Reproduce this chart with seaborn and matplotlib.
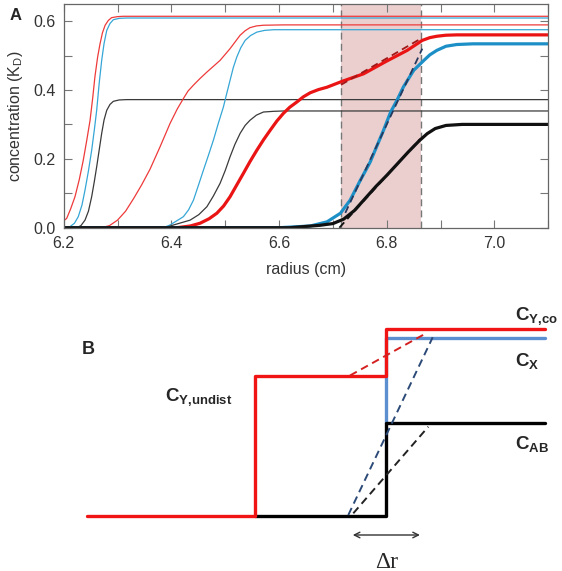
import numpy as np
import pandas as pd
import matplotlib
matplotlib.use('Agg')
import matplotlib.pyplot as plt
from matplotlib.ticker import MultipleLocator
import seaborn as sns

# =============================================================================
# PANEL A - concentration profiles
# =============================================================================
# thin curves (early boundaries)
r1_x = [6.200, 6.2056, 6.213, 6.221, 6.229, 6.2364, 6.243, 6.249, 6.254, 6.258, 6.263, 6.2675, 6.272, 6.277,
        6.283, 6.289, 6.300, 6.311, 7.100]
r1_y = [0.020, 0.027, 0.055, 0.090, 0.140, 0.196, 0.255, 0.312, 0.378, 0.438, 0.495, 0.534, 0.566, 0.588,
        0.602, 0.610, 0.613, 0.614, 0.614]
b1_x = [6.200, 6.2117, 6.220, 6.2271, 6.234, 6.2396, 6.246, 6.252, 6.257, 6.2613, 6.266, 6.2706, 6.275, 6.280,
        6.286, 6.2922, 6.303, 6.317, 7.100]
b1_y = [0.000, 0.003, 0.013, 0.032, 0.066, 0.109, 0.165, 0.225, 0.285, 0.341, 0.420, 0.486, 0.535, 0.573,
        0.593, 0.604, 0.608, 0.609, 0.609]
k1_x = [6.200, 6.224, 6.232, 6.2396, 6.246, 6.252, 6.257, 6.2613, 6.266, 6.2706, 6.275, 6.280, 6.286, 6.2922,
        6.303, 6.317, 7.100]
k1_y = [0.000, 0.000, 0.006, 0.022, 0.048, 0.090, 0.135, 0.177, 0.226, 0.274, 0.313, 0.341, 0.358, 0.367,
        0.371, 0.372, 0.372]

# thin curves (later boundaries)
r2_x = [6.200, 6.270, 6.285, 6.300, 6.315, 6.330, 6.345, 6.3604, 6.379, 6.3976, 6.411, 6.4223, 6.431, 6.441,
        6.453, 6.466, 6.4905, 6.509, 6.5277, 6.537, 6.546, 6.558, 6.571, 6.608, 7.100]
r2_y = [0.000, 0.000, 0.006, 0.022, 0.048, 0.085, 0.125, 0.170, 0.235, 0.303, 0.345, 0.375, 0.397, 0.414,
        0.433, 0.452, 0.486, 0.520, 0.559, 0.572, 0.581, 0.586, 0.588, 0.589, 0.589]
b2_x = [6.200, 6.385, 6.3976, 6.4223, 6.432, 6.441, 6.450, 6.4595, 6.469, 6.478, 6.487, 6.4967, 6.503,
        6.509, 6.515, 6.5216, 6.529, 6.537, 6.547, 6.5587, 6.573, 6.590, 6.640, 7.100]
b2_y = [0.000, 0.000, 0.008, 0.032, 0.052, 0.080, 0.122, 0.167, 0.211, 0.254, 0.302, 0.351, 0.391,
        0.428, 0.465, 0.496, 0.523, 0.544, 0.558, 0.568, 0.573, 0.575, 0.575, 0.575]
k2_x = [6.200, 6.390, 6.3976, 6.4348, 6.451, 6.466, 6.478, 6.4905, 6.500, 6.509, 6.518, 6.5277, 6.537, 6.546,
        6.558, 6.571, 6.590, 6.608, 7.100]
k2_y = [0.000, 0.000, 0.005, 0.022, 0.038, 0.061, 0.092, 0.129, 0.166, 0.206, 0.242, 0.274, 0.297, 0.312,
        0.327, 0.336, 0.338, 0.339, 0.339]

# thick curves (current profiles)
R3_x = [6.200, 6.410, 6.435, 6.4533, 6.470, 6.4844, 6.497, 6.509, 6.521, 6.5338, 6.546, 6.5587, 6.571, 6.5835,
        6.596, 6.608, 6.620, 6.633, 6.645, 6.658, 6.673, 6.689, 6.717, 6.757, 6.800, 6.838, 6.866, 6.880,
        6.893, 6.910, 6.930, 7.100]
R3_y = [0.000, 0.000, 0.005, 0.013, 0.026, 0.042, 0.063, 0.090, 0.123, 0.158, 0.192, 0.225, 0.255, 0.283,
        0.310, 0.332, 0.350, 0.365, 0.380, 0.392, 0.401, 0.408, 0.425, 0.447, 0.484, 0.515, 0.544, 0.552,
        0.556, 0.559, 0.560, 0.560]
B3_x = [6.200, 6.600, 6.658, 6.689, 6.714, 6.732, 6.750, 6.769, 6.794, 6.807, 6.819, 6.831, 6.850, 6.869,
        6.880, 6.893, 6.910, 6.930, 6.960, 7.100]
B3_y = [0.000, 0.000, 0.005, 0.017, 0.042, 0.080, 0.135, 0.190, 0.283, 0.335, 0.370, 0.409, 0.457, 0.486,
        0.502, 0.515, 0.527, 0.532, 0.534, 0.534]
K3_x = [6.200, 6.620, 6.676, 6.700, 6.720, 6.740, 6.760, 6.780, 6.800, 6.820, 6.840, 6.860, 6.875, 6.890,
        6.910, 6.940, 7.100]
K3_y = [0.000, 0.000, 0.007, 0.012, 0.025, 0.050, 0.085, 0.120, 0.152, 0.186, 0.220, 0.252, 0.273, 0.288,
        0.297, 0.300, 0.300]

# straight-line fits through the boundary region
red_fit_x = [6.715, 6.862]
red_fit_y = [0.415, 0.548]
blue_fit_x = [6.723, 6.866]
blue_fit_y = [0.043, 0.520]
black_fit_x = [6.712, 6.862]
black_fit_y = [0.000, 0.258]

region = [6.715, 6.863]

# =============================================================================
# PANEL B - schematic step profiles (arbitrary units)
# =============================================================================
r_start, r_undist, r_co, r_end = 0.867, 2.55, 3.855, 5.45
c_undist, c_co, c_x, c_ab = 1.405, 1.875, 1.777, 0.927

red_step_x = [r_start, r_undist, r_undist, r_co, r_co, r_end]
red_step_y = [0, 0, c_undist, c_undist, c_co, c_co]
black_step_x = [r_undist, r_co, r_co, r_end]
black_step_y = [0, 0, c_ab, c_ab]
blue_step_x = [r_co, r_co, r_end]
blue_step_y = [c_ab, c_x, c_x]

red_dash_x = [3.50, 4.26]
red_dash_y = [1.405, 1.827]
blue_dash_x = [3.483, 4.327]
blue_dash_y = [0.01, 1.787]
black_dash_x = [3.533, 4.283]
black_dash_y = [0.027, 0.893]
delta_r = [3.50, 4.227]

# =============================================================================
# STYLE
# =============================================================================
sns.set_style('ticks')
plt.rcParams['font.family'] = ['Liberation Sans', 'DejaVu Sans']
plt.rcParams['mathtext.fontset'] = 'custom'
plt.rcParams['mathtext.rm'] = 'Liberation Sans'
plt.rcParams['mathtext.bf'] = 'Liberation Sans:bold'
plt.rcParams['mathtext.it'] = 'Liberation Sans:italic'
plt.rcParams['lines.solid_joinstyle'] = 'round'

fig = plt.figure(figsize=(5.62, 5.71), dpi=100)

# ---------------- Panel A ----------------
axA = fig.add_axes([0.1133, 0.6012, 0.8623, 0.392])
axA.axvspan(region[0], region[1], color='#ebcfcf', lw=0, zorder=0)
for xv in region:
    axA.axvline(xv, color='#777777', lw=1.0, ls=(0, (5, 3)), zorder=1)

thin = [(r1_x, r1_y, '#ee3a3a'), (b1_x, b1_y, '#35a6d6'), (k1_x, k1_y, '#3a3a3a'),
        (r2_x, r2_y, '#ee3a3a'), (b2_x, b2_y, '#35a6d6'), (k2_x, k2_y, '#3a3a3a')]
for xs, ys, col in thin:
    sns.lineplot(x=xs, y=ys, ax=axA, color=col, lw=0.9, sort=False, estimator=None)

thick = [(R3_x, R3_y, '#ea1414'), (B3_x, B3_y, '#1c8fc7'), (K3_x, K3_y, '#111111')]
for xs, ys, col in thick:
    sns.lineplot(x=xs, y=ys, ax=axA, color=col, lw=2.3, sort=False, estimator=None)

fits = [(red_fit_x, red_fit_y, '#a01818'), (blue_fit_x, blue_fit_y, '#26395e'),
        (black_fit_x, black_fit_y, '#111111')]
for xs, ys, col in fits:
    sns.lineplot(x=xs, y=ys, ax=axA, color=col, lw=1.3, ls=(0, (4, 2.5)), sort=False, estimator=None)

axA.set_xlim(6.2, 7.1)
axA.set_ylim(0, 0.65)
axA.xaxis.set_major_locator(MultipleLocator(0.2))
axA.xaxis.set_minor_locator(MultipleLocator(0.1))
axA.yaxis.set_major_locator(MultipleLocator(0.2))
axA.yaxis.set_minor_locator(MultipleLocator(0.1))
axA.xaxis.set_major_formatter(plt.FormatStrFormatter('%.1f'))
axA.yaxis.set_major_formatter(plt.FormatStrFormatter('%.1f'))
axA.tick_params(which='both', direction='in', length=6, width=0.8, color='#777777',
                top=True, right=True, labelsize=11.5, labelcolor='#333333', pad=6)
for sp in axA.spines.values():
    sp.set_color('#666666')
    sp.set_linewidth(0.9)
axA.set_xlabel('radius (cm)', fontsize=11.5, color='#333333', labelpad=8)
axA.set_ylabel(r'concentration (K$_\mathrm{D}$)', fontsize=11.5, color='#333333', labelpad=6)
fig.text(10 / 562, 1 - 15 / 571, 'A', fontsize=12, fontweight='bold', va='center', ha='left')

# ---------------- Panel B ----------------
axB = fig.add_axes([0, 0, 1, 281 / 571])
axB.set_xlim(0, 5.62)
axB.set_ylim(-0.55, 2.26)
axB.axis('off')

sns.lineplot(x=blue_step_x, y=blue_step_y, ax=axB, color='#5b8fd0', lw=2.4, sort=False, estimator=None)
sns.lineplot(x=black_step_x, y=black_step_y, ax=axB, color='#000000', lw=2.4, sort=False, estimator=None)
sns.lineplot(x=red_step_x, y=red_step_y, ax=axB, color='#f01414', lw=2.4, sort=False, estimator=None)
sns.lineplot(x=red_dash_x, y=red_dash_y, ax=axB, color='#d42020', lw=1.4, ls=(0, (4, 2.5)), sort=False, estimator=None)
sns.lineplot(x=blue_dash_x, y=blue_dash_y, ax=axB, color='#2c4a78', lw=1.4, ls=(0, (4, 2.5)), sort=False, estimator=None)
sns.lineplot(x=black_dash_x, y=black_dash_y, ax=axB, color='#222222', lw=1.4, ls=(0, (4, 2.5)), sort=False, estimator=None)

axB.annotate('', xy=(delta_r[0], -0.19), xytext=(delta_r[1], -0.19),
             arrowprops=dict(arrowstyle='<->', color='#333333', lw=1.0))
axB.text(sum(delta_r) / 2, -0.46, 'Δr', fontsize=17, family=['Liberation Serif', 'DejaVu Serif'],
         ha='center', va='center')
axB.text(1.65, 1.19, r'$\mathbf{C_{Y{,}undist}}$', fontsize=13.5, ha='left', va='center')
axB.text(5.15, 2.0, r'$\mathbf{C_{Y{,}co}}$', fontsize=13.5, ha='left', va='center')
axB.text(5.15, 1.55, r'$\mathbf{C_{X}}$', fontsize=13.5, ha='left', va='center')
axB.text(5.15, 0.72, r'$\mathbf{C_{AB}}$', fontsize=13.5, ha='left', va='center')
axB.text(0.883, 1.66, 'B', fontsize=13, fontweight='bold', ha='center', va='center')

plt.savefig('out.png', dpi=100)
